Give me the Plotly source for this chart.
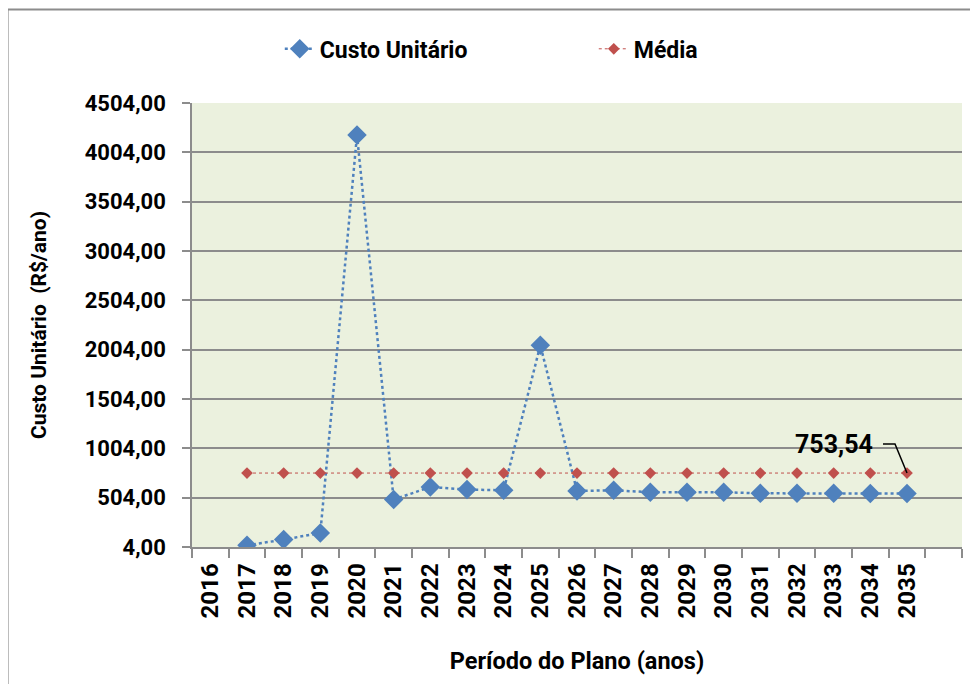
import plotly.graph_objects as go

years = list(range(2016, 2036))
tick_labels = [str(y) for y in years]
data_years = list(range(2017, 2036))
custo = [21, 79, 146, 4179, 485, 612, 586, 579, 2049, 572, 579, 559, 559, 559, 548, 548, 548, 545, 545]
media_value = 753.54
media = [media_value] * len(data_years)
y_ticks = [4 + 500 * i for i in range(10)]
y_tick_labels = [f"{v},00" for v in y_ticks]

FONT = "Roboto, Liberation Sans, sans-serif"
GRID = "#8c8c8c"

fig = go.Figure()
fig.add_trace(go.Scatter(
    x=data_years, y=custo, name="Custo Unitário", mode="lines+markers",
    line=dict(color="#4F81BD", width=2.5, dash="dot"),
    marker=dict(symbol="diamond", size=15, color="#4F81BD"),
))
fig.add_trace(go.Scatter(
    x=data_years, y=media, name="Média", mode="lines+markers",
    line=dict(color="#C0504D", width=1, dash="dot"),
    marker=dict(symbol="diamond", size=9, color="#C0504D"),
))

fig.add_annotation(
    x=data_years[-1], y=media_value, text="753,54", showarrow=False,
    xanchor="right", yanchor="middle", xshift=-32, yshift=29,
    font=dict(family=FONT, size=25, color="black", weight="bold"),
)
fig.add_shape(
    type="path", xref="x", yref="y", xsizemode="pixel", ysizemode="pixel",
    xanchor=data_years[-1], yanchor=media_value,
    path="M -24,29 L -12,29 L 0,0", line=dict(color="black", width=1.5),
)

# outer chart frame
fig.add_shape(type="line", xref="paper", yref="paper", x0=-0.2395, x1=-0.2395, y0=-0.4, y1=1.2104,
              line=dict(color="#8c8c8c", width=2))
fig.add_shape(type="line", xref="paper", yref="paper", x0=-0.2395, x1=1.05, y0=1.2104, y1=1.2104,
              line=dict(color="#8c8c8c", width=2))

fig.update_layout(
    width=978, height=684,
    margin=dict(l=184, r=24, t=95, b=145, autoexpand=False),
    paper_bgcolor="white", plot_bgcolor="#EBF1DE",
    font=dict(family=FONT, color="black", weight="bold"),
    showlegend=True,
    legend=dict(orientation="h", x=0.114, y=1.122, xanchor="left", yanchor="middle",
                font=dict(family=FONT, size=23, weight="bold"), entrywidth=269,
                bgcolor="rgba(0,0,0,0)"),
)
fig.update_xaxes(
    range=[2015.5, 2036.5], tickmode="array", tickvals=years, ticktext=tick_labels,
    tickangle=-90, ticks="", ticklabelstandoff=5,
    tickfont=dict(family=FONT, size=24, weight="bold"),
    showgrid=False, zeroline=False, showline=True, linecolor=GRID, linewidth=1.5,
    minor=dict(tickmode="array", tickvals=[2015.5 + i for i in range(22)], ticks="outside",
               ticklen=9, tickcolor=GRID, tickwidth=1.5, showgrid=False),
    title=dict(text="Período do Plano (anos)", font=dict(family=FONT, size=23.5, weight="bold"), standoff=35),
)
fig.update_yaxes(
    range=[4, 4504], tickmode="array", tickvals=y_ticks, ticktext=y_tick_labels,
    ticks="outside", ticklen=8, tickcolor=GRID, tickwidth=1.5, ticklabelstandoff=12,
    tickfont=dict(family=FONT, size=22, weight="bold"),
    showgrid=True, gridcolor=GRID, gridwidth=1.5, zeroline=False,
    showline=True, linecolor=GRID, linewidth=1.5,
    title=dict(text="Custo Unitário  (R$/ano)", font=dict(family=FONT, size=21, weight="bold"), standoff=32),
)

fig.write_html("out.html")
